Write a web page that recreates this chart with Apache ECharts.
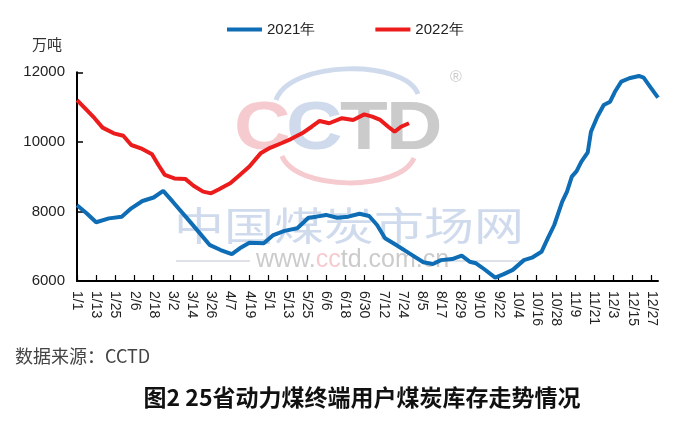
<!DOCTYPE html>
<html>
<head>
<meta charset="utf-8">
<script src="https://cdn.jsdelivr.net/npm/echarts@6/dist/echarts.min.js"></script>
<style>
html,body{margin:0;padding:0;background:#fff;}
#chart{width:697px;height:421px;}
</style>
</head>
<body>
<div id="chart"></div>
<script>
// ---- data ----
const tickLabels = ['1/1','1/13','1/25','2/6','2/18','3/2','3/14','3/26','4/7','4/19','5/1','5/13','5/25','6/6','6/18','6/30','7/12','7/24','8/5','8/17','8/29','9/10','9/22','10/4','10/16','10/28','11/9','11/21','12/3','12/15','12/27'];

const dates2021 = ['1/1','1/7','1/13','1/21','1/29','2/4','2/11','2/18','2/24','3/2','3/11','3/19','3/25','4/1','4/8','4/13','4/19','4/28','5/4','5/11','5/19','5/26','5/31','6/6','6/13','6/20','6/27','7/3','7/8','7/13','7/20','7/28','8/6','8/12','8/17','8/24','8/30','9/4','9/8','9/13','9/20','9/25','10/1','10/8','10/13','10/19','10/23','10/27','11/1','11/4','11/7','11/10','11/13','11/17','11/19','11/23','11/27','12/1','12/4','12/8','12/13','12/19','12/22','12/26','12/31'];
const stock2021 = [8180,7950,7690,7800,7850,8090,8300,8400,8590,8280,7800,7370,7040,6890,6770,6940,7100,7085,7320,7440,7515,7820,7850,7900,7820,7850,7935,7870,7610,7230,7035,6800,6540,6490,6600,6630,6730,6555,6510,6345,6095,6190,6320,6600,6670,6840,7230,7610,8280,8570,9000,9160,9430,9700,10290,10720,11060,11155,11440,11730,11830,11895,11845,11590,11270];

const dates2022 = ['1/1','1/7','1/12','1/17','1/24','1/30','2/4','2/10','2/17','2/21','2/25','3/3','3/10','3/15','3/21','3/26','3/31','4/4','4/7','4/13','4/19','4/26','5/2','5/9','5/15','5/22','5/28','6/2','6/8','6/16','6/23','6/30','7/5','7/10','7/15','7/19','7/23','7/28'];
const stock2022 = [11200,10920,10680,10410,10245,10175,9910,9815,9645,9335,9050,8950,8930,8740,8570,8520,8640,8740,8810,9050,9290,9670,9830,9960,10080,10245,10435,10600,10535,10680,10630,10790,10725,10630,10435,10290,10435,10535];

const seriesNames = ['2021年','2022年'];
const unitLabel = '万吨';
const sourceText = '数据来源：CCTD';
const titleText = '图2 25省动力煤终端用户煤炭库存走势情况';

// ---- categories (every day of the year) ----
const monthLen = [31,28,31,30,31,30,31,31,30,31,30,31];
const categories = [];
monthLen.forEach((n, m) => { for (let d = 1; d <= n; d++) categories.push((m + 1) + '/' + d); });

const pairs = (ds, vs) => ds.map((d, i) => [d, vs[i]]);

const chart = echarts.init(document.getElementById('chart'), null, {renderer: 'canvas'});
const axisFont = 'Liberation Sans, Arial, sans-serif';
const wmBlue = 'rgba(168,190,222,0.55)';
const wmPink = 'rgba(236,160,168,0.55)';
const wmGray = 'rgba(185,185,185,0.75)';

chart.setOption({
  backgroundColor: '#fff',
  animation: false,
  graphic: [
    // watermark arcs
    {type: 'bezierCurve', z: 0, silent: true,
     shape: {x1: 276, y1: 100, x2: 418, y2: 94, cpx1: 290, cpy1: 60, cpx2: 405, cpy2: 59},
     style: {fill: null, stroke: wmBlue, lineWidth: 5}},
    {type: 'bezierCurve', z: 0, silent: true,
     shape: {x1: 282, y1: 156, x2: 414, y2: 158, cpx1: 296, cpy1: 191, cpx2: 400, cpy2: 192},
     style: {fill: null, stroke: wmPink, lineWidth: 5}},
    {type: 'text', z: 0, silent: true, x: 234, y: 96, scaleX: 1.15,
     style: {text: 'C', fontSize: 68, fontWeight: 'bold', fontFamily: 'Liberation Sans', fill: wmPink}},
    {type: 'text', z: 0, silent: true, x: 286, y: 96, scaleX: 1.15,
     style: {text: 'C', fontSize: 68, fontWeight: 'bold', fontFamily: 'Liberation Sans', fill: wmBlue}},
    {type: 'text', z: 0, silent: true, x: 340, y: 96, scaleX: 1.15,
     style: {text: 'T', fontSize: 68, fontWeight: 'bold', fontFamily: 'Liberation Sans', fill: wmGray}},
    {type: 'text', z: 0, silent: true, x: 386, y: 96, scaleX: 1.15,
     style: {text: 'D', fontSize: 68, fontWeight: 'bold', fontFamily: 'Liberation Sans', fill: wmGray}},
    {type: 'text', z: 0, silent: true, x: 450, y: 70,
     style: {text: '®', fontSize: 16, fontFamily: 'Liberation Sans', fill: wmGray}},
    {type: 'text', z: 0, silent: true, x: 174, y: 206, scaleY: 0.78,
     style: {text: '中国煤炭市场网', fontSize: 50, fontFamily: 'Noto Sans CJK SC', fill: wmBlue}},
    {type: 'line', z: 0, silent: true, shape: {x1: 176, y1: 261, x2: 250, y2: 261}, style: {stroke: 'rgba(200,205,215,0.6)', lineWidth: 2}},
    {type: 'line', z: 0, silent: true, shape: {x1: 434, y1: 261, x2: 522, y2: 261}, style: {stroke: 'rgba(200,205,215,0.6)', lineWidth: 2}},
    {type: 'text', z: 0, silent: true, x: 256, y: 248,
     style: {text: '{g|www.}{p|cc}{g|td.com.cn}', fontSize: 25, fontFamily: 'Liberation Sans',
       rich: {g: {fill: wmGray, fontSize: 25, fontFamily: 'Liberation Sans'}, p: {fill: wmPink, fontSize: 25, fontFamily: 'Liberation Sans'}}}},
    // unit, source and title
    {type: 'text', x: 32, y: 37,
     style: {text: unitLabel, fontSize: 15, fontFamily: 'Noto Sans CJK SC', fill: '#333'}},
    {type: 'text', x: 15, y: 347,
     style: {text: sourceText, fontSize: 18, fontFamily: 'Noto Sans CJK SC', fill: '#444'}},
    {type: 'text', x: 362, y: 397,
     style: {text: titleText, fontSize: 23, fontWeight: 'bold', fontFamily: 'Noto Sans CJK SC', fill: '#111', align: 'center', verticalAlign: 'middle'}}
  ],
  legend: {
    data: seriesNames,
    left: 222, top: 17,
    icon: 'rect', itemWidth: 35, itemHeight: 4, itemGap: 60,
    textStyle: {fontSize: 15, fontFamily: axisFont, color: '#222'}
  },
  grid: {left: 77, top: 72.3, right: 39, bottom: 140, containLabel: false},
  xAxis: {
    type: 'category',
    data: categories,
    boundaryGap: false,
    axisLine: {lineStyle: {color: '#000', width: 2}},
    axisTick: {inside: true, length: 6, interval: 11, lineStyle: {color: '#000', width: 1.2}},
    axisLabel: {interval: 11, rotate: -90, margin: 10, fontSize: 14, fontFamily: axisFont, color: '#222'},
    splitLine: {show: false}
  },
  yAxis: {
    type: 'value',
    min: 6000, max: 12000, interval: 2000,
    axisLine: {show: true, lineStyle: {color: '#000', width: 2}},
    axisTick: {show: true, inside: true, length: 6, lineStyle: {color: '#000', width: 1.5}},
    axisLabel: {fontSize: 15, margin: 12, fontFamily: axisFont, color: '#222', formatter: v => String(v)},
    splitLine: {show: false}
  },
  series: [
    {name: seriesNames[0], type: 'line', data: pairs(dates2021, stock2021), showSymbol: false,
     lineStyle: {color: '#0E6DB5', width: 4}, itemStyle: {color: '#0E6DB5'}, z: 3},
    {name: seriesNames[1], type: 'line', data: pairs(dates2022, stock2022), showSymbol: false,
     lineStyle: {color: '#EC1C1C', width: 4}, itemStyle: {color: '#EC1C1C'}, z: 4}
  ]
});
</script>
</body>
</html>
